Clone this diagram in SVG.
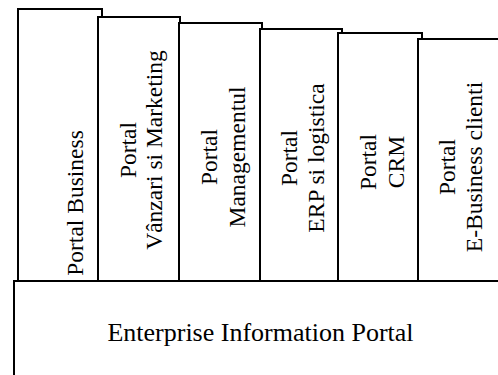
<svg xmlns="http://www.w3.org/2000/svg" width="498" height="375" viewBox="0 0 498 375">
<style>
.box{fill:#fff;stroke:#000;stroke-width:2}
.t{font-family:'Liberation Serif','Times New Roman',serif;font-size:23.5px;fill:#000;text-anchor:middle}
.b{font-family:'Liberation Serif','Times New Roman',serif;font-size:26px;fill:#000;text-anchor:middle}
</style>
<rect width="498" height="375" fill="#fff"/>
<g id="portal-business">
<rect class="box" x="18" y="9" width="84" height="272"/>
<text class="t" transform="rotate(-90)" x="-203" y="83">Portal Business</text>
</g>
<g id="portal-vanzari">
<rect class="box" x="98" y="17" width="82" height="264"/>
<text class="t" transform="rotate(-90)" x="-150" y="136">Portal</text>
<text class="t" transform="rotate(-90)" x="-150" y="162">Vânzari si Marketing</text>
</g>
<g id="portal-management">
<rect class="box" x="179" y="23" width="83" height="258"/>
<text class="t" transform="rotate(-90)" x="-157" y="217">Portal</text>
<text class="t" transform="rotate(-90)" x="-157" y="245">Managementul</text>
</g>
<g id="portal-erp">
<rect class="box" x="260" y="29" width="82" height="252"/>
<text class="t" transform="rotate(-90)" x="-158" y="297">Portal</text>
<text class="t" transform="rotate(-90)" x="-158" y="324">ERP si logistica</text>
</g>
<g id="portal-crm">
<rect class="box" x="338" y="33" width="84" height="248"/>
<text class="t" transform="rotate(-90)" x="-162" y="376">Portal</text>
<text class="t" transform="rotate(-90)" x="-162" y="404">CRM</text>
</g>
<g id="portal-ebusiness">
<rect class="box" x="418" y="39" width="90" height="242"/>
<text class="t" transform="rotate(-90)" x="-167" y="455">Portal</text>
<text class="t" transform="rotate(-90)" x="-167" y="482">E-Business clienti</text>
</g>
<g id="enterprise-information-portal">
<rect class="box" x="14" y="281" width="500" height="110"/>
<text class="b" x="260.5" y="341">Enterprise Information Portal</text>
</g>
<g id="connectors"/>
</svg>
